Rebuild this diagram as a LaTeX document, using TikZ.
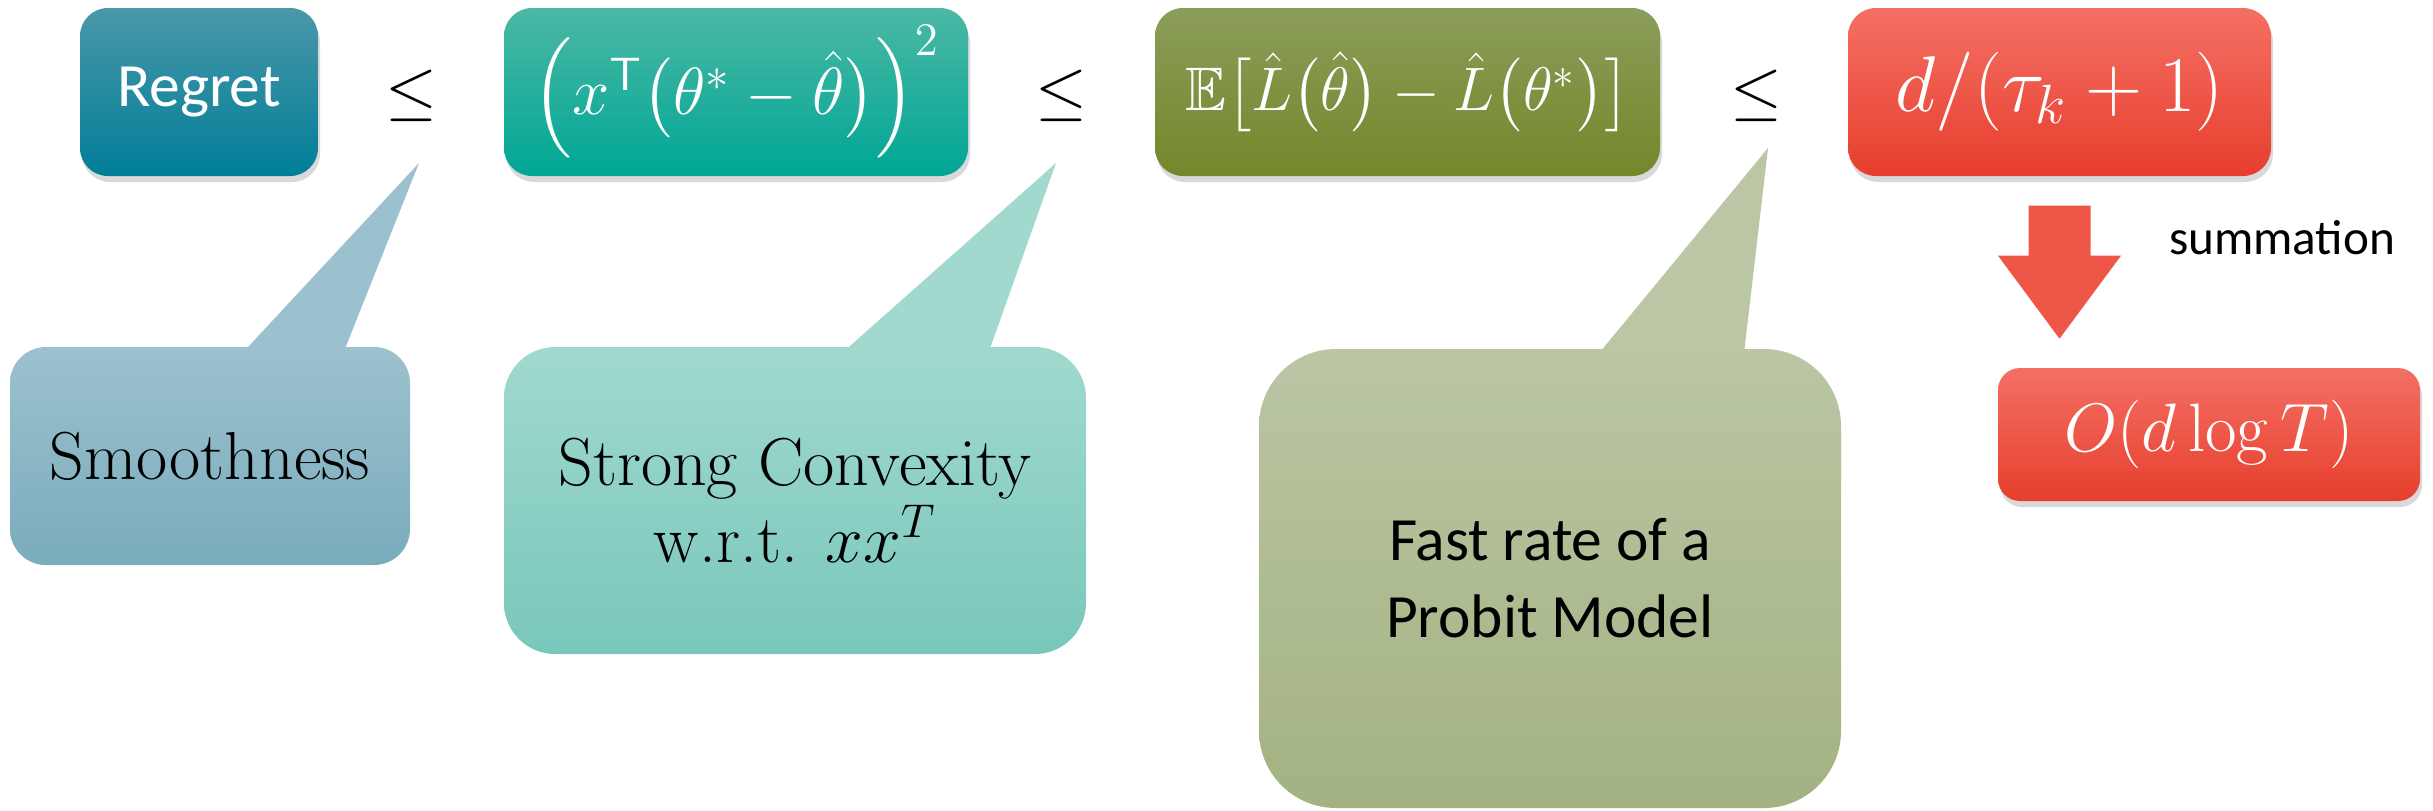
\RequirePackage{fix-cm}
\documentclass[tikz,border=0pt]{standalone}
\usepackage{amsmath,amssymb}
\usepackage[no-math]{fontspec}
\setmainfont{Carlito}
\usetikzlibrary{shadows,backgrounds,calc}

\definecolor{regretT}{RGB}{74,151,169}
\definecolor{regretB}{RGB}{0,126,152}
\definecolor{tealT}{RGB}{76,184,166}
\definecolor{tealB}{RGB}{0,166,148}
\definecolor{oliveT}{RGB}{139,157,90}
\definecolor{oliveB}{RGB}{115,135,42}
\definecolor{redT}{RGB}{244,112,100}
\definecolor{redB}{RGB}{231,62,45}
\definecolor{arrowred}{RGB}{238,86,72}
\definecolor{smoothT}{RGB}{156,193,206}
\definecolor{smoothB}{RGB}{122,172,188}
\definecolor{convT}{RGB}{161,217,206}
\definecolor{convB}{RGB}{121,199,187}
\definecolor{probT}{RGB}{186,198,164}
\definecolor{probB}{RGB}{163,178,130}

\newcommand{\formulafont}{\fontsize{21}{25}\selectfont}
\newcommand{\labelfont}{\fontsize{17.5}{21.9}\selectfont}
\newcommand{\serifcall}{\fontfamily{lmr}\selectfont\fontsize{19.3}{21.9}\selectfont}

\begin{document}
\begin{tikzpicture}[
    topbox/.style={rounded corners=0.28cm, minimum height=1.68cm, inner sep=0pt, text=white,
      font=\formulafont, drop shadow={opacity=0.3, shadow xshift=0.02cm, shadow yshift=-0.06cm}},
    bubble/.style={inner sep=0pt, align=center, font=\serifcall},
    relsign/.style={font=\fontsize{19}{22}\selectfont}
  ]

    \useasboundingbox (0,0) rectangle (24.33,-8.11);

    % Riquadri in alto
    \node[topbox, minimum width=2.38cm, top color=regretT, bottom color=regretB, font=\labelfont] (regret) at (1.99,-0.92) {Regret};
    \node[relsign] (le1) at (4.11,-0.96) {$\leq$};
    \node[topbox, minimum width=4.64cm, top color=tealT, bottom color=tealB, font=\fontsize{19}{23}\selectfont] (quad) at (7.36,-0.92) {$\Big(x^{\mathsf{T}}\big(\theta^{*}-\hat{\theta}\big)\Big)^{2}$};
    \node[relsign] (le2) at (10.61,-0.96) {$\leq$};
    \node[topbox, minimum width=5.05cm, top color=oliveT, bottom color=oliveB, font=\fontsize{17.5}{21}\selectfont] (excess) at (14.075,-0.92) {$\mathbb{E}\big[\hat{L}\big(\hat{\theta}\big)-\hat{L}\big(\theta^{*}\big)\big]$};
    \node[relsign] (le3) at (17.56,-0.96) {$\leq$};
    \node[topbox, minimum width=4.23cm, top color=redT, bottom color=redB, font=\fontsize{22.5}{26}\selectfont] (dtau) at (20.595,-0.92) {$d/(\tau_k+1)$};

    % Freccia e somma
    \fill[arrowred] ($(dtau.south)+(-0.31,-0.29)$) -- ++(0.62,0) -- ++(0,-0.5) -- ++(0.305,0)
      -- ($(dtau.south)+(0,-1.62)$) -- ($(dtau.south)+(-0.615,-0.79)$) -- ++(0.305,0) -- cycle;
    \node[font=\fontsize{14}{17}\selectfont] (summ) at (22.82,-2.38) {summation};
    \node[topbox, minimum width=4.22cm, minimum height=1.33cm, rounded corners=0.22cm, top color=redT, bottom color=redB, font=\fontsize{19.5}{23}\selectfont] (odlog) at (22.09,-4.345) {$O(d\log T)$};

    % Fumetti
    \node[bubble, rounded corners=0.36cm, minimum width=4.00cm, minimum height=2.18cm, top color=smoothT, bottom color=smoothB] (smooth) at (2.10,-4.56) {Smoothness};
    \node[bubble, rounded corners=0.51cm, minimum width=5.82cm, minimum height=3.07cm, top color=convT, bottom color=convB] (conv) at (7.95,-5.005) {Strong Convexity\\w.r.t. $xx^{T}$};
    \node[bubble, font=\labelfont, rounded corners=0.77cm, minimum width=5.82cm, minimum height=4.59cm, top color=probT, bottom color=probB] (probit) at (15.50,-5.785) {Fast rate of a\\Probit Model};

    % Punte dei fumetti
    \coordinate (tipA) at (4.19,-1.63);
    \coordinate (tipB) at (10.56,-1.63);
    \coordinate (tipC) at (17.68,-1.48);
    \begin{pgfonlayer}{background}
      \fill[smoothT] ($(smooth.north)+(0.34,-0.05)$) -- (tipA) -- ($(smooth.north)+(1.34,-0.05)$) -- cycle;
      \fill[convT] ($(conv.north)+(0.49,-0.05)$) -- (tipB) -- ($(conv.north)+(1.94,-0.05)$) -- cycle;
      \fill[probT] ($(probit.north)+(0.49,-0.05)$) -- (tipC) -- ($(probit.north)+(1.94,-0.05)$) -- cycle;
    \end{pgfonlayer}

\end{tikzpicture}
\end{document}
